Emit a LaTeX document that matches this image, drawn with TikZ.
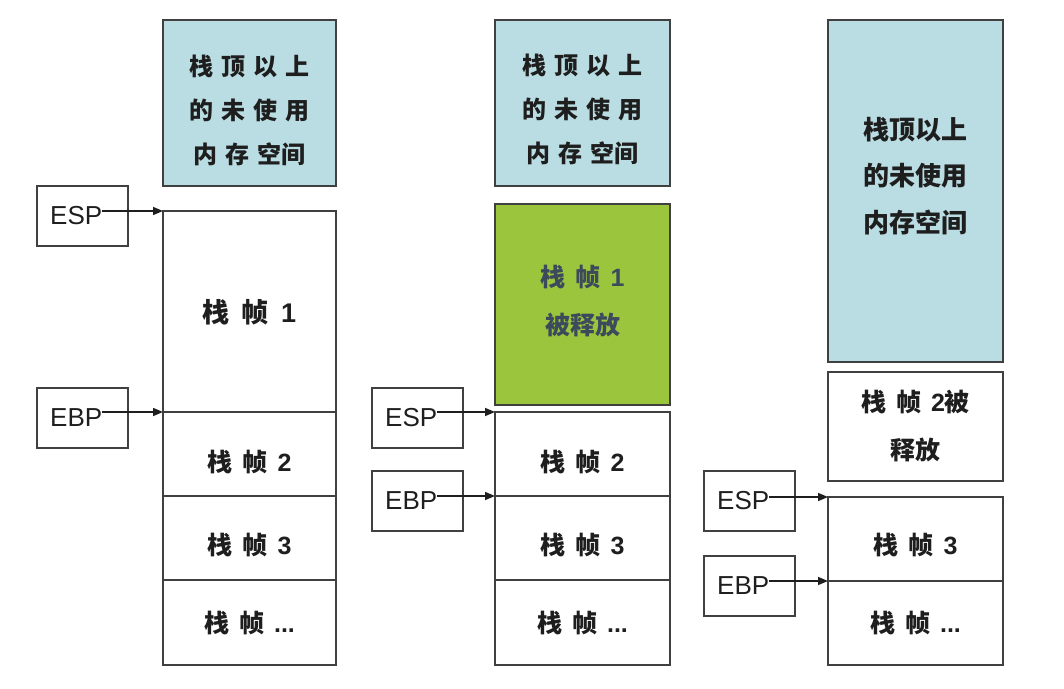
\documentclass[tikz,border=0pt]{standalone}
\usepackage{fontspec}
\setmainfont{Liberation Sans}
\newfontfamily\cjk{Noto Sans CJK SC}
\usetikzlibrary{arrows.meta}

\definecolor{edge}{HTML}{404040}
\definecolor{ink}{HTML}{1E1E1E}
\definecolor{skyfill}{HTML}{B9DDE3}
\definecolor{leaf}{HTML}{9BC53D}
\definecolor{slate}{HTML}{3C4A5C}

% a rectangle given by its corners (x1,y1)-(x2,y2), y growing downwards,
% with its caption centred horizontally at height #7
\newcommand\slab[8]{%
  \node[#6, minimum width={(#4-#2)*1pt}, minimum height={(#5-#3)*1pt}]
    (#1) at ({(#2+#4)/2},{(#3+#5)/2}) {};
  \node[#6, draw=none, fill=none, minimum width=0pt, minimum height=0pt]
    (#1t) at (#1.center |- 0,#7) {#8};}
% a register box with its name written near the left side
\newcommand\regbox[4]{%
  \node[reg, anchor=north west] (#1) at (#2,#3) {};
  \node[regtext] (#1t) at ([xshift=13pt]#1.west) {#4};}
% frame numbers are set in the Latin face
\newcommand\fno[1]{{\rmfamily\bfseries #1}}

\begin{document}
\begin{tikzpicture}[x=1pt, y=-1pt,
  cell/.style={draw=edge, line width=1.6pt, inner sep=0pt, outer sep=0pt,
    align=center, text=ink,
    font={\cjk\bfseries\fontsize{25}{48}\selectfont\spaceskip=0.4em\relax}},
  big/.style={font={\cjk\bfseries\fontsize{27}{48}\selectfont\spaceskip=0.45em\relax}},
  free/.style={cell, fill=skyfill,
    font={\cjk\bfseries\fontsize{24}{44}\selectfont\spaceskip=0.32em\relax}},
  tall/.style={font={\cjk\bfseries\fontsize{26}{46.5}\selectfont}},
  gone/.style={cell, fill=leaf, text=slate},
  reg/.style={draw=edge, line width=1.4pt, minimum width=91pt,
    minimum height=60pt, inner sep=0pt, outer sep=0pt},
  regtext/.style={font=\fontsize{26}{26}\selectfont, inner sep=0pt,
    anchor=west, text=ink},
  ptr/.style={draw=ink, line width=1.5pt, -{Triangle[length=10pt,width=8pt]}}]

\useasboundingbox (0,0) rectangle (1064,688);

% ---- left stack: frame 1 is live ----
\slab{freeA}{163}{20}{336}{186}{free}{110}{栈 顶 以 上\\的 未 使 用\\内 存 空间}
\slab{fA1}{163}{211}{336}{412}{cell, big}{312}{栈 帧 \fno{1}}
\slab{fA2}{163}{412}{336}{496}{cell}{462}{栈 帧 \fno{2}}
\slab{fA3}{163}{496}{336}{580}{cell}{545}{栈 帧 \fno{3}}
\slab{fA4}{163}{580}{336}{665}{cell}{623}{栈 帧 \fno{...}}
\regbox{espA}{37}{186}{ESP}
\regbox{ebpA}{37}{388}{EBP}
\draw[ptr] (espAt.east |- fA1.north west) -- (fA1.north west);
\draw[ptr] (ebpAt.east |- fA2.north west) -- (fA2.north west);

% ---- middle stack: frame 1 released ----
\slab{freeB}{495}{20}{670}{186}{free}{109}{栈 顶 以 上\\的 未 使 用\\内 存 空间}
\slab{relB}{495}{204}{670}{405}{gone}{301}{栈 帧 \fno{1}\\被释放}
\slab{fB2}{495}{412}{670}{496}{cell}{462}{栈 帧 \fno{2}}
\slab{fB3}{495}{496}{670}{580}{cell}{545}{栈 帧 \fno{3}}
\slab{fB4}{495}{580}{670}{665}{cell}{623}{栈 帧 \fno{...}}
\regbox{espB}{372}{388}{ESP}
\regbox{ebpB}{372}{471}{EBP}
\draw[ptr] (espBt.east |- fB2.north west) -- (fB2.north west);
\draw[ptr] (ebpBt.east |- fB3.north west) -- (fB3.north west);

% ---- right stack: frame 2 released ----
\slab{freeC}{828}{20}{1003}{362}{free, tall}{176}{栈顶以上\\的未使用\\内存空间}
\slab{relC}{828}{372}{1003}{481}{cell}{426}{栈 帧 \fno{2}被\\释放}
\slab{fC3}{828}{497}{1003}{581}{cell}{545}{栈 帧 \fno{3}}
\slab{fC4}{828}{581}{1003}{665}{cell}{623}{栈 帧 \fno{...}}
\regbox{espC}{704}{471}{ESP}
\regbox{ebpC}{704}{556}{EBP}
\draw[ptr] (espCt.east |- fC3.north west) -- (fC3.north west);
\draw[ptr] (ebpCt.east |- fC4.north west) -- (fC4.north west);

\end{tikzpicture}
\end{document}
